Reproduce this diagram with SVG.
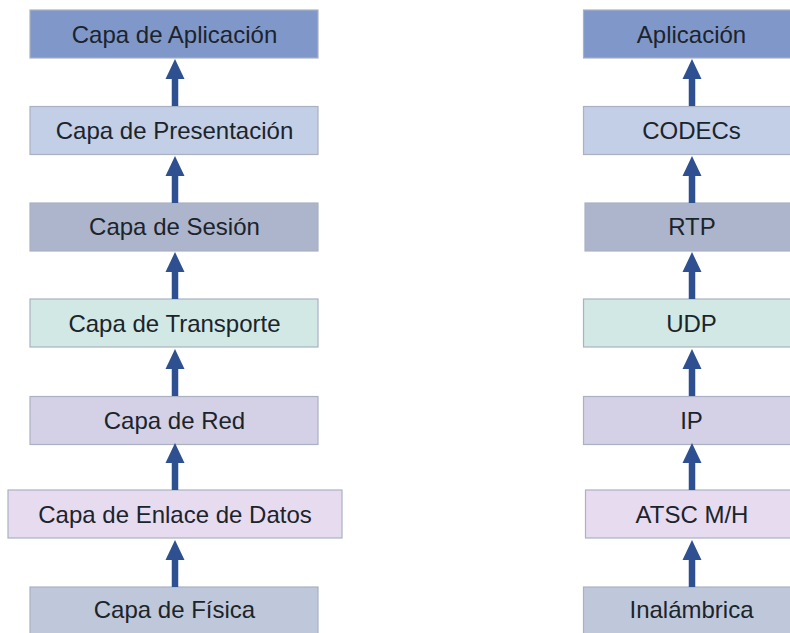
<svg xmlns="http://www.w3.org/2000/svg" width="790" height="633" viewBox="0 0 790 633">
<defs>
<style>
.box{stroke:#A9B1C2;stroke-width:1.2}
.t{font-family:"Liberation Sans",Arial,sans-serif;font-size:24px;fill:#1C242B;text-anchor:middle;dominant-baseline:central}
.c{stroke:#2F5090;stroke-width:6.5;fill:none}
.h{fill:#2F5090}
</style>
</defs>
<rect width="790" height="633" fill="#FFFFFF"/>
<g id="l1"><rect class="box" x="30" y="10" width="288" height="48" fill="#8097CA"/><text class="t" x="174.5" y="34">Capa de Aplicación</text></g>
<g id="l2"><rect class="box" x="30" y="106.5" width="288" height="48" fill="#C3CEE7"/><text class="t" x="174.5" y="130">Capa de Presentación</text></g>
<g id="l3"><rect class="box" x="30" y="203" width="288" height="48" fill="#ACB5CB"/><text class="t" x="174.5" y="226">Capa de Sesión</text></g>
<g id="l4"><rect class="box" x="30" y="299" width="288" height="48" fill="#D1E8E4"/><text class="t" x="174.5" y="323">Capa de Transporte</text></g>
<g id="l5"><rect class="box" x="30" y="396.5" width="288" height="48" fill="#D4D0E5"/><text class="t" x="174.5" y="420">Capa de Red</text></g>
<g id="l6"><rect class="box" x="8" y="490" width="334" height="48" fill="#E7DBF0"/><text class="t" x="175" y="514">Capa de Enlace de Datos</text></g>
<g id="l7"><rect class="box" x="30" y="587" width="288" height="50" fill="#BFC8DA"/><text class="t" x="174.5" y="609">Capa de Física</text></g>
<g id="r1"><rect class="box" x="583.5" y="10" width="218" height="48" fill="#8097CA"/><text class="t" x="691.5" y="34">Aplicación</text></g>
<g id="r2"><rect class="box" x="583.5" y="106.5" width="218" height="48" fill="#C3CEE7"/><text class="t" x="691.5" y="130">CODECs</text></g>
<g id="r3"><rect class="box" x="585" y="203" width="218" height="48" fill="#ACB5CB"/><text class="t" x="692" y="226">RTP</text></g>
<g id="r4"><rect class="box" x="583.5" y="299" width="218" height="48" fill="#D1E8E4"/><text class="t" x="691.5" y="323">UDP</text></g>
<g id="r5"><rect class="box" x="583.5" y="396.5" width="218" height="48" fill="#D4D0E5"/><text class="t" x="691.5" y="420">IP</text></g>
<g id="r6"><rect class="box" x="585.5" y="490" width="218" height="48" fill="#E7DBF0"/><text class="t" x="692" y="514">ATSC M/H</text></g>
<g id="r7"><rect class="box" x="583.5" y="587" width="218" height="50" fill="#BFC8DA"/><text class="t" x="691.5" y="609">Inalámbrica</text></g>
<g id="connectors">
<path class="c" d="M175 106V78M175 203V175M175 299V271M175 396V368M175 490V462M175 587V559"/>
<path class="h" d="M175 59L184.5 79H165.5Z"/>
<path class="h" d="M175 156L184.5 176H165.5Z"/>
<path class="h" d="M175 252L184.5 272H165.5Z"/>
<path class="h" d="M175 349L184.5 369H165.5Z"/>
<path class="h" d="M175 443L184.5 463H165.5Z"/>
<path class="h" d="M175 540L184.5 560H165.5Z"/>
<path class="c" d="M692 106V78M692 203V175M692 299V271M692 396V368M692 490V462M692 587V559"/>
<path class="h" d="M692 59L701.5 79H682.5Z"/>
<path class="h" d="M692 156L701.5 176H682.5Z"/>
<path class="h" d="M692 252L701.5 272H682.5Z"/>
<path class="h" d="M692 349L701.5 369H682.5Z"/>
<path class="h" d="M692 443L701.5 463H682.5Z"/>
<path class="h" d="M692 540L701.5 560H682.5Z"/>
</g>
</svg>
